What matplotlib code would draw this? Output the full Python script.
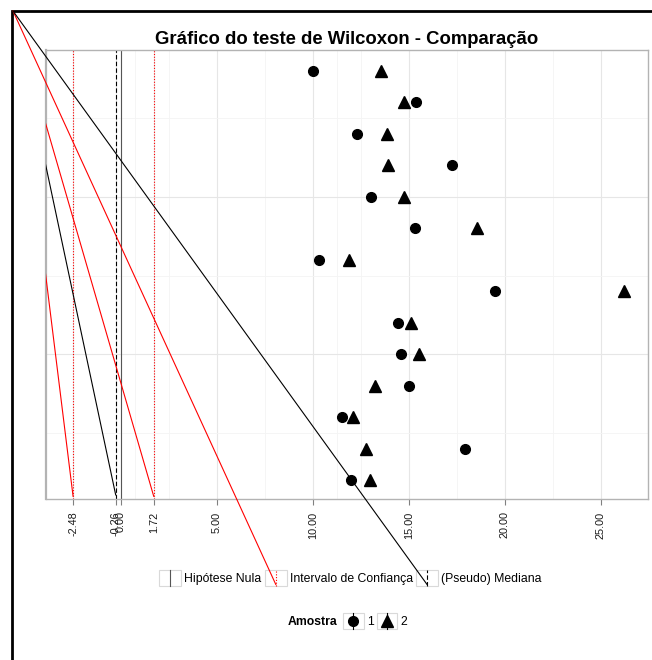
import numpy as np
import matplotlib
matplotlib.use("Agg")
import matplotlib.pyplot as plt
from matplotlib.lines import Line2D
from matplotlib.patches import Rectangle
from matplotlib.legend_handler import HandlerBase

plt.rcParams['font.family'] = ['Liberation Sans', 'DejaVu Sans']

# observacoes (linhas de cima para baixo)
obs = list(range(1, 15))
amostra1 = [10.04, 15.36, 12.28, 17.24, 13.06, 15.31, 10.35, 19.48,
            14.42, 14.59, 14.99, 11.55, 17.91, 11.97]
amostra2 = [13.58, 14.77, 13.87, 13.90, 14.77, 18.56, 11.88, 26.21,
            15.10, 15.53, 13.25, 12.12, 12.75, 12.99]

hipotese_nula = 0.0
ic_inf, ic_sup = -2.48, 1.72
pseudo_mediana = -0.26

x_ticks = [-2.48, -0.26, 0.00, 1.72, 5.00, 10.00, 15.00, 20.00, 25.00]
x_minor = [0.73, 2.5, 7.5, 11.26, 12.5, 17.5, 22.5]
y_major = [5, 10]
y_minor = [2.5, 7.5, 12.5]

W, H = 652, 660
fig = plt.figure(figsize=(W / 100, H / 100), dpi=100)
ax = fig.add_axes([46 / W, 1 - 499 / H, 602 / W, 449 / H])

ax.set_xlim(-3.89, 27.46)
ax.set_ylim(14.59, 0.34)

# grade
ax.set_xticks(x_ticks)
ax.set_xticks(x_minor, minor=True)
ax.set_yticks(y_major)
ax.set_yticks(y_minor, minor=True)
ax.set_xticklabels([f"{t:.2f}" for t in x_ticks], rotation=90)
ax.set_yticklabels([])
ax.grid(which='major', color='#E6E6E6', lw=0.8)
ax.grid(which='minor', color='#F4F4F4', lw=0.6)
ax.set_axisbelow(True)
ax.tick_params(axis='x', which='major', length=4, width=0.8, color='#808080',
               labelsize=7.8, labelcolor='#1A1A1A', pad=5)
ax.tick_params(axis='x', which='minor', length=0)
ax.tick_params(axis='y', which='both', length=0)
for s in ax.spines.values():
    s.set_color('#B3B3B3')
    s.set_linewidth(1.0)
ax.spines['left'].set_linewidth(1.6)

# linhas verticais
ax.axvline(hipotese_nula, color='#555555', lw=0.8, zorder=2)
ax.axvline(ic_inf, color='red', lw=0.8, ls=(0, (1, 1.5)), zorder=2)
ax.axvline(ic_sup, color='red', lw=0.8, ls=(0, (1, 1.5)), zorder=2)
ax.axvline(pseudo_mediana, color='black', lw=0.8, ls=(0, (4, 2)), zorder=2)

# pontos
ax.plot(amostra1, obs, 'o', color='black', markersize=7, zorder=4)
ax.plot(amostra2, obs, '^', color='black', markersize=8, zorder=4)

ax.set_title("Gráfico do teste de Wilcoxon - Comparação", fontsize=13.3,
             weight='bold', pad=4)


class ChaveVertical(HandlerBase):
    def create_artists(self, legend, orig_handle, xdescent, ydescent,
                       width, height, fontsize, trans):
        x0, y0 = -xdescent, -ydescent
        caixa = Rectangle((x0, y0), width, height, facecolor='white',
                          edgecolor='#D9D9D9', lw=0.8, transform=trans)
        cx = x0 + width / 2
        linha = Line2D([cx, cx], [y0, y0 + height])
        linha.update_from(orig_handle)
        linha.set_marker('None')
        linha.set_transform(trans)
        artistas = [caixa, linha]
        if orig_handle.get_marker() not in (None, 'None', '', ' '):
            ponto = Line2D([cx], [y0 + height / 2], ls='none',
                           marker=orig_handle.get_marker(),
                           markersize=orig_handle.get_markersize(),
                           color=orig_handle.get_color(), transform=trans)
            artistas.append(ponto)
        return artistas


h_linhas = [
    Line2D([], [], color='#555555', lw=0.8),
    Line2D([], [], color='red', lw=0.8, ls=(0, (1, 1.5))),
    Line2D([], [], color='black', lw=0.8, ls=(0, (4, 2))),
]
rot_linhas = ["Hipótese Nula", "Intervalo de Confiança", "(Pseudo) Mediana"]
leg1 = fig.legend(h_linhas, rot_linhas, loc='center',
                  bbox_to_anchor=(350.5 / W, 1 - 578 / H), ncol=3,
                  frameon=False, handler_map={Line2D: ChaveVertical()},
                  handlelength=1.8, handleheight=1.75, handletextpad=0.25,
                  columnspacing=0.25, fontsize=8.8, borderpad=0)

h_amostra = [
    Line2D([], [], color='black', lw=0.8, marker='o', markersize=7),
    Line2D([], [], color='black', lw=0.8, marker='^', markersize=8),
]
leg2 = fig.legend(h_amostra, ["1", "2"], loc='center',
                  bbox_to_anchor=(375 / W, 1 - 621 / H), ncol=2,
                  frameon=False, handler_map={Line2D: ChaveVertical()},
                  handlelength=1.7, handleheight=1.75, handletextpad=0.25,
                  columnspacing=0.25, fontsize=8.8, borderpad=0)
fig.text(337 / W, 1 - 622 / H, "Amostra", ha='right', va='center',
         weight='bold', fontsize=8.8)

# moldura
fig.add_artist(Rectangle((12 / W, -0.5), 1.0, 1.5 - 11 / H, fill=False,
                         edgecolor='black', lw=2, transform=fig.transFigure))

# linhas diagonais que saem do canto
fig.canvas.draw()
inv = fig.transFigure.inverted()
canto = (13 / W, 1 - 11 / H)


def diagonal(fim_disp, cor, recorta):
    fim = inv.transform(fim_disp)
    ln = Line2D([canto[0], fim[0]], [canto[1], fim[1]], color=cor, lw=0.8,
                transform=fig.transFigure, zorder=10)
    if recorta:
        ln.set_clip_box(ax.bbox)
        ln.set_clip_on(True)
    fig.add_artist(ln)


xt = ax.get_xaxis_transform()
diagonal(xt.transform((ic_sup, 0.006)), 'red', True)
diagonal(xt.transform((pseudo_mediana, 0.009)), 'black', True)
diagonal(xt.transform((ic_inf, 0.006)), 'red', True)

for i, cor in [(1, 'red'), (2, 'black')]:
    bb = leg1.legend_handles[i].get_window_extent()
    diagonal((bb.x0 + bb.width / 2, bb.y0 + 2), cor, False)

fig.savefig("out.png", dpi=100)
